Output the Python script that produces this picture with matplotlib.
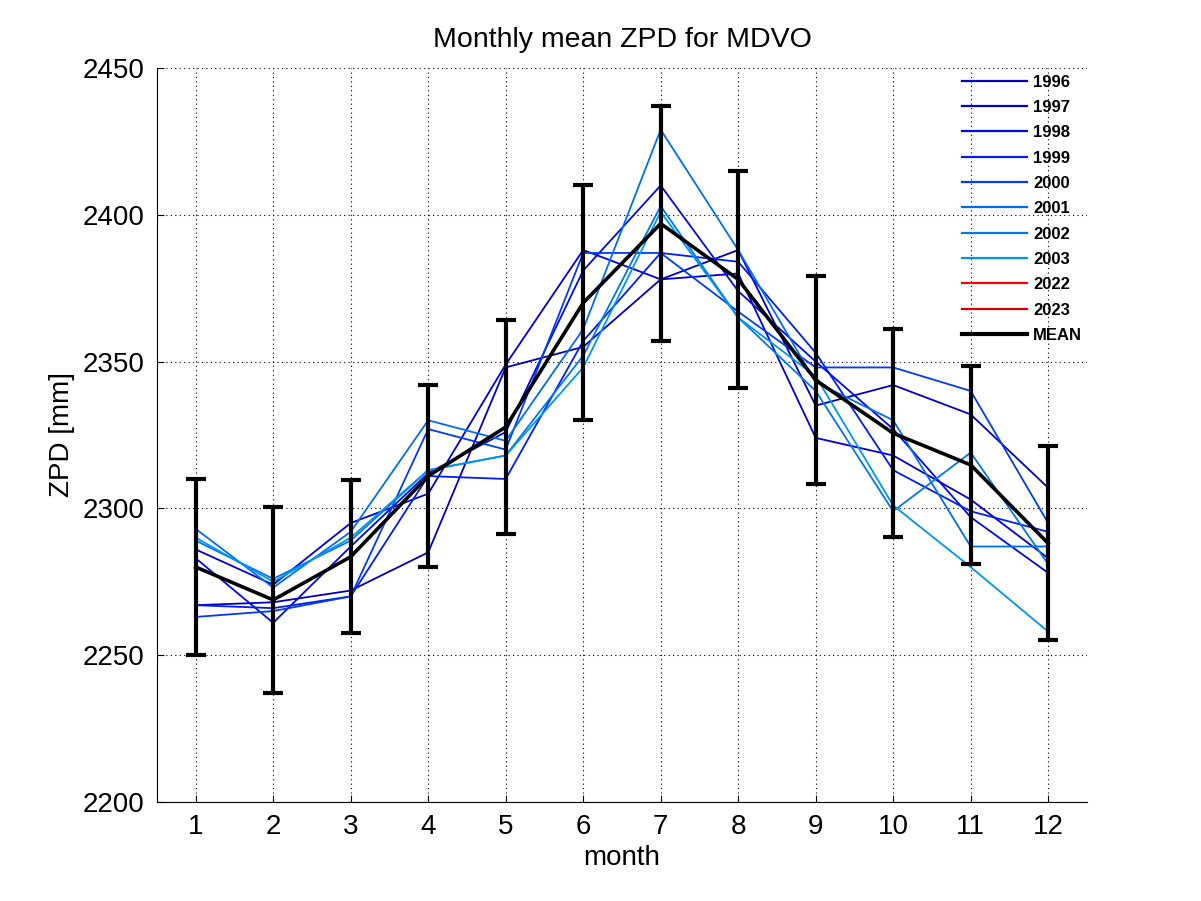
import matplotlib.pyplot as plt
from matplotlib.lines import Line2D

plt.rcParams['font.family'] = ['Liberation Sans', 'DejaVu Sans']

months = list(range(1, 13))
years = ['1996', '1997', '1998', '1999', '2000', '2001', '2002', '2003']

# monthly mean ZPD per year (mm)
zpd_1996 = [2267, 2268, 2272, 2285, 2348, 2355, 2378, 2388, 2335, 2342, 2332, 2307]
zpd_1997 = [2286, 2274, 2295, 2305, 2349, 2388, 2378, 2380, 2324, 2318, 2303, 2283]
zpd_1998 = [2283, 2261, 2287, 2312, 2326, 2381, 2410, 2374, 2350, 2327, 2297, 2278]
zpd_1999 = [2267, 2266, 2270, 2311, 2310, 2357, 2387, 2384, 2353, 2313, 2299, 2292]
zpd_2000 = [2263, 2265, 2270, 2327, 2320, 2387, 2387, 2367, 2348, 2348, 2340, 2295]
zpd_2001 = [2293, 2273, 2292, 2330, 2323, 2361, 2429, 2388, 2343, 2330, 2287, 2287]
zpd_2002 = [2289, 2276, 2289, 2313, 2318, 2352, 2403, 2365, 2340, 2299, 2319, 2281]
zpd_2003 = [2290, 2275, 2290, 2313, 2318, 2348, 2401, 2365, 2345, 2301, 2280, 2258]
series = [zpd_1996, zpd_1997, zpd_1998, zpd_1999, zpd_2000, zpd_2001, zpd_2002, zpd_2003]

zpd_mean = [2280, 2268.8, 2283.5, 2311, 2327.7, 2370, 2397, 2378, 2343.7, 2325.6, 2314.8, 2288.1]
zpd_err = [30, 31.7, 26, 31, 36.3, 40, 40, 37, 35.3, 35.4, 33.8, 33]

colores = ['#0000be', '#0000d2', '#000ae6', '#001ef0', '#003cf5',
           '#006ef0', '#0078eb', '#0096f0']

fig = plt.figure(figsize=(12.01, 9.01), dpi=100)
ax = fig.add_axes([0.1307, 0.11, 0.7743, 0.8145])

for y, vals, c in zip(years, series, colores):
    ax.plot(months, vals, color=c, lw=1.3, label=y)

ax.errorbar(months, zpd_mean, yerr=zpd_err, color='black', lw=2.6,
            elinewidth=3, capsize=7, capthick=3, zorder=5)

ax.set_xlim(0.5, 12.5)
ax.set_ylim(2200, 2450)
ax.set_xticks(months)
ax.set_yticks(range(2200, 2451, 50))
ax.tick_params(direction='in', length=5, labelsize=20, width=0.8)
ax.tick_params(axis='y', pad=9)
ax.tick_params(axis='x', pad=9)
ax.grid(True, color='black', linestyle=(0, (1, 3)), linewidth=0.8)
ax.spines['top'].set_visible(False)
ax.spines['right'].set_visible(False)

ax.set_title("Monthly mean ZPD for MDVO", fontsize=20.5, pad=15)
ax.set_xlabel("month", fontsize=20, labelpad=3)
ax.set_ylabel("ZPD [mm]", fontsize=20)
ax.yaxis.set_label_coords(-0.088, 0.5)

# leyenda: 2022 y 2023 sin datos
handles = [Line2D([], [], color=c, lw=1.6) for c in colores]
handles += [Line2D([], [], color='#ff0000', lw=1.6),
            Line2D([], [], color='#dc0000', lw=1.6),
            Line2D([], [], color='black', lw=3)]
labels = years + ['2022', '2023', 'MEAN']
ax.legend(handles, labels, loc='upper left', bbox_to_anchor=(0.8656, 0.991),
          frameon=False, prop={'weight': 'bold', 'size': 12},
          handlelength=3.9, handletextpad=0.36, labelspacing=0.62,
          borderaxespad=0.0, borderpad=0.0)

plt.savefig("out.png", dpi=100)
